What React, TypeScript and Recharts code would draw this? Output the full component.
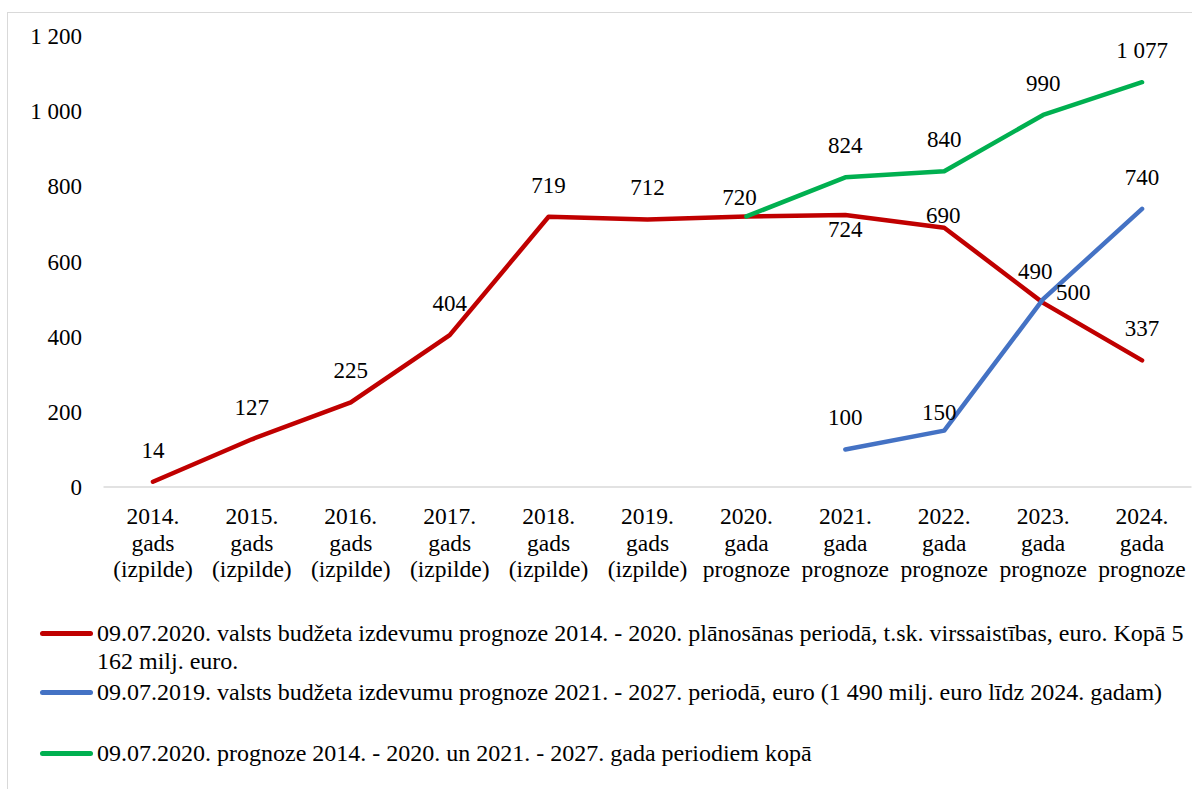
import React from 'react';
import { LineChart, Line, XAxis, YAxis } from 'recharts';

const categories = [
  '2014. gads (izpilde)',
  '2015. gads (izpilde)',
  '2016. gads (izpilde)',
  '2017. gads (izpilde)',
  '2018. gads (izpilde)',
  '2019. gads (izpilde)',
  '2020. gada prognoze',
  '2021. gada prognoze',
  '2022. gada prognoze',
  '2023. gada prognoze',
  '2024. gada prognoze',
];

const redValues: (number | null)[] = [14, 127, 225, 404, 719, 712, 720, 724, 690, 490, 337];
const blueValues: (number | null)[] = [null, null, null, null, null, null, null, 100, 150, 500, 740];
const greenValues: (number | null)[] = [null, null, null, null, null, null, 720, 824, 840, 990, 1077];

const yTicks = [0, 200, 400, 600, 800, 1000, 1200];

const seriesNames = {
  red: '09.07.2020. valsts budžeta izdevumu prognoze 2014. - 2020. plānosānas periodā, t.sk. virssaistības, euro. Kopā 5 162 milj. euro.',
  blue: '09.07.2019. valsts budžeta izdevumu prognoze 2021. - 2027. periodā, euro (1 490 milj. euro līdz 2024. gadam)',
  green: '09.07.2020. prognoze 2014. - 2020. un 2021. - 2027. gada periodiem kopā',
};

const COLORS = { red: '#C00000', blue: '#4472C4', green: '#00B050' };
const FONT = '"Liberation Serif", "Times New Roman", "Liberation Sans", Arial, sans-serif';

const data = categories.map((cat, i) => ({
  cat,
  red: redValues[i],
  blue: blueValues[i],
  green: greenValues[i],
}));

const fmt = (n: number) => String(n).replace(/\B(?=(\d{3})+(?!\d))/g, ' ');

// label placement (dx, dy) relative to the point
const labelOffsets: Record<string, Record<number, [number, number]>> = {
  red: { 6: [-7, -19], 7: [0, 14], 8: [-1, -13], 9: [-8, -32] },
  blue: { 8: [-5, -19], 9: [30, -7] },
  green: { 6: [0, 0] },
};
const hiddenLabels: Record<string, number[]> = { red: [], blue: [], green: [6] };

const makeLabel = (key: string) => (props: any) => {
  const { x, y, value, index } = props;
  if (value == null || x == null || y == null) return null;
  if (hiddenLabels[key].includes(index)) return null;
  const off = labelOffsets[key][index] || [0, -32];
  return (
    <text
      key={`${key}-${index}`}
      x={x + off[0]}
      y={y + off[1]}
      dy="0.35em"
      textAnchor="middle"
      fill="#000"
      fontSize={23}
      fontFamily={FONT}
    >
      {fmt(value)}
    </text>
  );
};

const XTick = (props: any) => {
  const { x, y, payload } = props;
  const parts = String(payload.value).split(' ');
  return (
    <text x={x} y={y} textAnchor="middle" fill="#000" fontSize={23.5} fontFamily={FONT}>
      {parts.map((p, i) => (
        <tspan key={i} x={x} y={y + 37 + i * 26.5}>
          {p}
        </tspan>
      ))}
    </text>
  );
};

const legendItems: { key: 'red' | 'blue' | 'green'; top: number; lines: string[] }[] = [
  {
    key: 'red',
    top: 606,
    lines: [
      '09.07.2020. valsts budžeta izdevumu prognoze 2014. - 2020. plānosānas periodā, t.sk. virssaistības, euro. Kopā 5',
      '162 milj. euro.',
    ],
  },
  { key: 'blue', top: 665, lines: [seriesNames.blue] },
  { key: 'green', top: 726, lines: [seriesNames.green] },
];

export default function App() {
  return (
    <div
      style={{
        position: 'fixed',
        left: 0,
        top: 0,
        width: 1192,
        height: 789,
        overflow: 'hidden',
        background: '#fff',
      }}
    >
      <div
        style={{
          position: 'absolute',
          left: 7,
          top: 12,
          width: 1200,
          height: 800,
          border: '1px solid #d9d9d9',
          background: '#fff',
        }}
      >
        <div style={{ position: 'absolute', left: 0, top: 0 }}>
          <LineChart
            width={1184}
            height={600}
            data={data}
            margin={{ top: 23, right: 0.5, bottom: 16, left: 0 }}
          >
            <XAxis
              dataKey="cat"
              scale="band"
              interval={0}
              tickLine={false}
              tickSize={0}
              tickMargin={0}
              height={110}
              axisLine={{ stroke: '#d9d9d9', strokeWidth: 1.5 }}
              tick={<XTick />}
            />
            <YAxis
              domain={[0, 1200]}
              ticks={yTicks}
              width={95.5}
              axisLine={false}
              tickLine={false}
              tickSize={0}
              tickMargin={21.5}
              tickFormatter={fmt}
              tick={{ fill: '#000', fontSize: 23, fontFamily: FONT }}
            />
            <Line
              dataKey="red"
              name={seriesNames.red}
              stroke={COLORS.red}
              strokeWidth={4.5}
              strokeLinecap="round"
              strokeLinejoin="round"
              dot={false}
              activeDot={false}
              isAnimationActive={false}
              label={makeLabel('red')}
            />
            <Line
              dataKey="blue"
              name={seriesNames.blue}
              stroke={COLORS.blue}
              strokeWidth={4.5}
              strokeLinecap="round"
              strokeLinejoin="round"
              dot={false}
              activeDot={false}
              isAnimationActive={false}
              label={makeLabel('blue')}
            />
            <Line
              dataKey="green"
              name={seriesNames.green}
              stroke={COLORS.green}
              strokeWidth={4.5}
              strokeLinecap="round"
              strokeLinejoin="round"
              dot={false}
              activeDot={false}
              isAnimationActive={false}
              label={makeLabel('green')}
            />
          </LineChart>
        </div>
        {legendItems.map((it) => (
          <div
            key={it.key}
            style={{
              position: 'absolute',
              left: 0,
              top: it.top,
              fontFamily: FONT,
              fontSize: 24,
              lineHeight: '28px',
              color: '#000',
              whiteSpace: 'nowrap',
            }}
          >
            <div
              style={{
                position: 'absolute',
                left: 32,
                top: 11.5,
                width: 53,
                height: 5,
                borderRadius: 2.5,
                background: COLORS[it.key],
              }}
            />
            <div style={{ position: 'absolute', left: 89, top: 0 }}>
              {it.lines.map((l, i) => (
                <div key={i}>{l}</div>
              ))}
            </div>
          </div>
        ))}
      </div>
    </div>
  );
}
